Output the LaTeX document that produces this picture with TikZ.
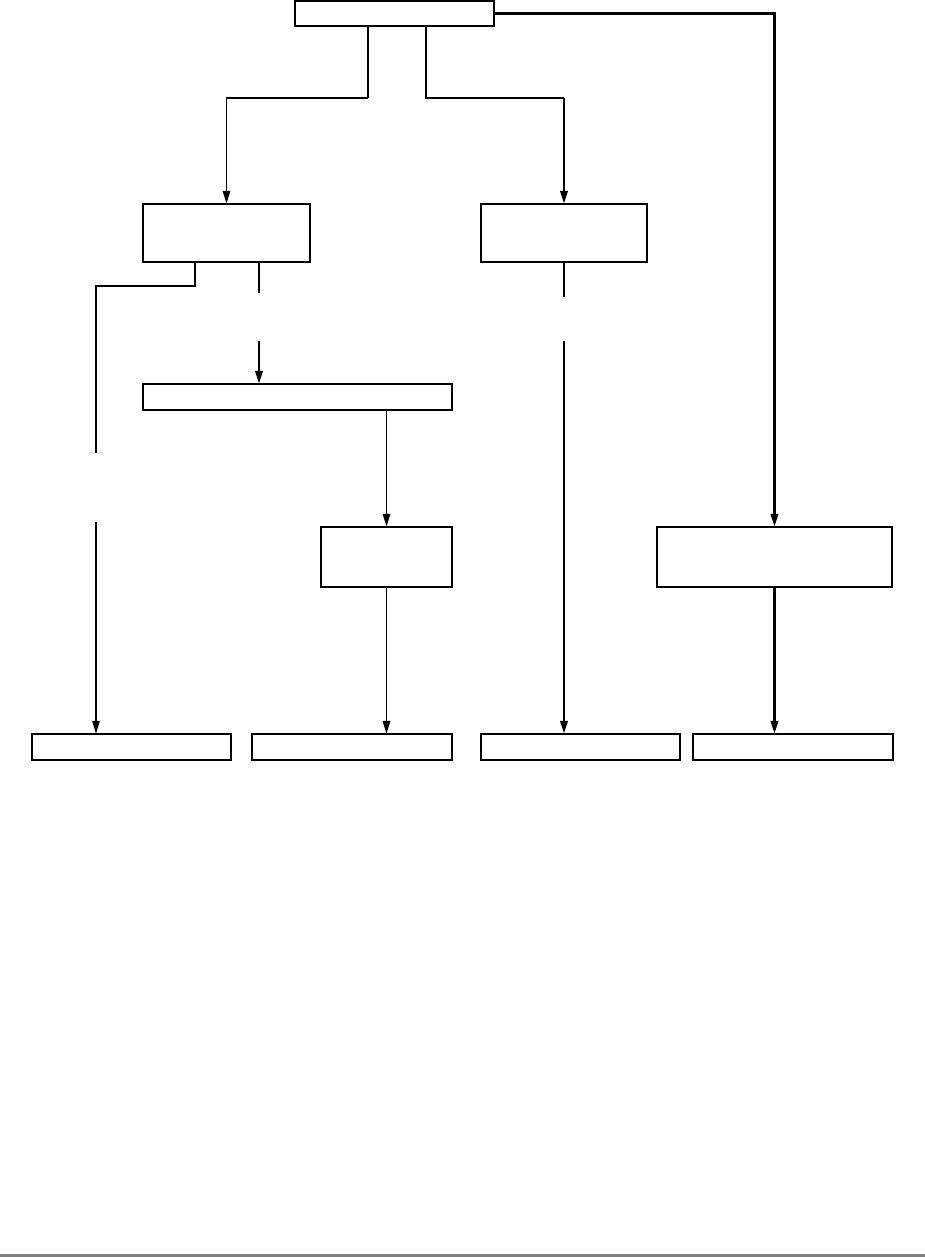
\documentclass[tikz,border=0pt]{standalone}
\usepackage{tikz}
\usetikzlibrary{positioning,arrows.meta,shadows}

\begin{document}
\begin{tikzpicture}[x=0.2mm, y=-0.2mm,
  bx/.style 2 args={draw, fill=white, inner sep=0pt, line width=0.6pt,
    minimum width=#1*0.2mm, minimum height=#2*0.2mm,
    drop shadow={shadow xshift=0.45pt, shadow yshift=-0.45pt, fill=black, opacity=1}},
  ln/.style={line width=0.6pt},
  lnb/.style={line width=1.2pt},
  arr/.style={-{Triangle[length=2.5mm, width=1.5mm]}}]
\useasboundingbox (0,0) rectangle (925,1257);
% boxes
\node[bx={199}{25}] (top) at (394.5,13.5) {};
\node[bx={167}{58}] (boxA) at (226.5,233) {};
\node[bx={166}{58}] (boxB) at (564,233) {};
\node[bx={309}{26}] (boxC) at (297.5,397) {};
\node[bx={131}{60}] (boxD) at (386.5,557) {};
\node[bx={235}{60}] (boxE) at (774.5,557) {};
\node[bx={199}{26}] (bot1) at (131.5,747) {};
\node[bx={200}{26}] (bot2) at (352,747) {};
\node[bx={199}{26}] (bot3) at (580.5,747) {};
\node[bx={200}{26}] (bot4) at (793,747) {};
% bends and broken ends
\coordinate (t1) at (368,98);
\coordinate (t2) at (426,98);
\coordinate (a1) at (195,286);
\coordinate (g1) at (96,453);
\coordinate (g2) at (96,522);
\coordinate (a2) at (259,293);
\coordinate (a3) at (259,341);
\coordinate (b1) at (564,297);
\coordinate (b2) at (564,341);
% from top
\draw[lnb] (t1 |- top.south) -- (t1);
\draw[ln, arr] (t1) -| (boxA.north);
\draw[ln] (t2 |- top.south) -- (t2) -- (t2 -| boxB.north);
\draw[lnb, arr] (t2 -| boxB.north) -- (boxB.north);
\draw[lnb, arr] (top.east) -| (boxE.north);
% left column
\draw[ln] (a1 |- boxA.south) -- (a1) -| (g1);
\draw[ln, arr] (g2) -- (g2 |- bot1.north);
\draw[lnb] (a2 |- boxA.south) -- (a2);
\draw[lnb, arr] (a3) -- (a3 |- boxC.north);
\draw[ln, arr] (boxD.north |- boxC.south) -- (boxD.north);
\draw[ln, arr] (boxD.south) -- (boxD.south |- bot2.north);
% right columns
\draw[lnb] (boxB.south) -- (b1);
\draw[lnb, arr] (b2) -- (b2 |- bot3.north);
\draw[lnb, arr] (boxE.south) -- (boxE.south |- bot4.north);
% rule at the foot
\fill[gray] (0,1254) rectangle (925,1257);
\end{tikzpicture}
\end{document}
